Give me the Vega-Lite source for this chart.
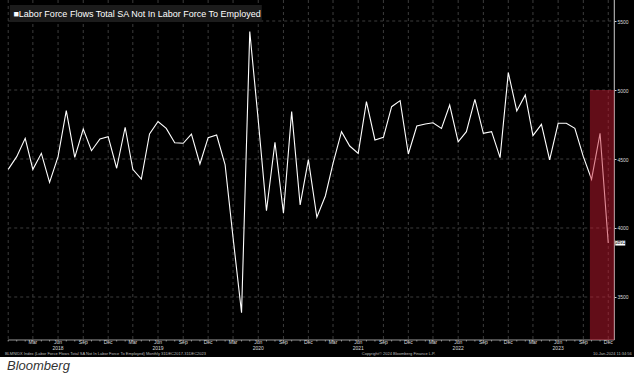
{
  "$schema": "https://vega.github.io/schema/vega-lite/v6.json",
  "width": 634,
  "height": 357,
  "autosize": {"type": "none"},
  "padding": {"left": 0, "top": 0, "right": 0, "bottom": 27},
  "background": "white",
  "title": {"text": "Bloomberg", "orient": "bottom", "anchor": "start", "font": "Liberation Sans", "fontSize": 13, "fontStyle": "italic", "fontWeight": "normal", "color": "#333333", "offset": 3, "dx": 7},
  "config": {
    "view": {"fill": "black", "stroke": null},
    "axis": {"labelFont": "Liberation Sans", "labelColor": "#dddddd", "labelFontSize": 5, "domain": false, "grid": false, "zindex": 2}
  },
  "datasets": {
    "flows": [
      {"date": "2017-12-01", "value": 4425},
      {"date": "2018-01-01", "value": 4517},
      {"date": "2018-02-01", "value": 4650},
      {"date": "2018-03-01", "value": 4425},
      {"date": "2018-04-01", "value": 4541},
      {"date": "2018-05-01", "value": 4331},
      {"date": "2018-06-01", "value": 4517},
      {"date": "2018-07-01", "value": 4850},
      {"date": "2018-08-01", "value": 4512},
      {"date": "2018-09-01", "value": 4717},
      {"date": "2018-10-01", "value": 4560},
      {"date": "2018-11-01", "value": 4645},
      {"date": "2018-12-01", "value": 4662},
      {"date": "2019-01-01", "value": 4433},
      {"date": "2019-02-01", "value": 4730},
      {"date": "2019-03-01", "value": 4425},
      {"date": "2019-04-01", "value": 4355},
      {"date": "2019-05-01", "value": 4681},
      {"date": "2019-06-01", "value": 4772},
      {"date": "2019-07-01", "value": 4722},
      {"date": "2019-08-01", "value": 4618},
      {"date": "2019-09-01", "value": 4614},
      {"date": "2019-10-01", "value": 4681},
      {"date": "2019-11-01", "value": 4464},
      {"date": "2019-12-01", "value": 4655},
      {"date": "2020-01-01", "value": 4674},
      {"date": "2020-02-01", "value": 4457},
      {"date": "2020-03-01", "value": 3930},
      {"date": "2020-04-01", "value": 3386},
      {"date": "2020-05-01", "value": 5423},
      {"date": "2020-06-01", "value": 4780},
      {"date": "2020-07-01", "value": 4125},
      {"date": "2020-08-01", "value": 4621},
      {"date": "2020-09-01", "value": 4107},
      {"date": "2020-10-01", "value": 4843},
      {"date": "2020-11-01", "value": 4167},
      {"date": "2020-12-01", "value": 4495},
      {"date": "2021-01-01", "value": 4078},
      {"date": "2021-02-01", "value": 4232},
      {"date": "2021-03-01", "value": 4469},
      {"date": "2021-04-01", "value": 4698},
      {"date": "2021-05-01", "value": 4594},
      {"date": "2021-06-01", "value": 4541},
      {"date": "2021-07-01", "value": 4916},
      {"date": "2021-08-01", "value": 4638},
      {"date": "2021-09-01", "value": 4657},
      {"date": "2021-10-01", "value": 4879},
      {"date": "2021-11-01", "value": 4923},
      {"date": "2021-12-01", "value": 4536},
      {"date": "2022-01-01", "value": 4739},
      {"date": "2022-02-01", "value": 4754},
      {"date": "2022-03-01", "value": 4763},
      {"date": "2022-04-01", "value": 4722},
      {"date": "2022-05-01", "value": 4891},
      {"date": "2022-06-01", "value": 4625},
      {"date": "2022-07-01", "value": 4698},
      {"date": "2022-08-01", "value": 4932},
      {"date": "2022-09-01", "value": 4686},
      {"date": "2022-10-01", "value": 4698},
      {"date": "2022-11-01", "value": 4510},
      {"date": "2022-12-01", "value": 5126},
      {"date": "2023-01-01", "value": 4848},
      {"date": "2023-02-01", "value": 4964},
      {"date": "2023-03-01", "value": 4669},
      {"date": "2023-04-01", "value": 4751},
      {"date": "2023-05-01", "value": 4493},
      {"date": "2023-06-01", "value": 4759},
      {"date": "2023-07-01", "value": 4759},
      {"date": "2023-08-01", "value": 4722},
      {"date": "2023-09-01", "value": 4517},
      {"date": "2023-10-01", "value": 4353},
      {"date": "2023-11-01", "value": 4686},
      {"date": "2023-12-01", "value": 3891}
    ],
    "latest": [{"date": "2023-12-01", "value": 3891}],
    "quarters": [
      {"date": "2017-12-01"},
      {"date": "2018-03-01"}, {"date": "2018-06-01"}, {"date": "2018-09-01"}, {"date": "2018-12-01"},
      {"date": "2019-03-01"}, {"date": "2019-06-01"}, {"date": "2019-09-01"}, {"date": "2019-12-01"},
      {"date": "2020-03-01"}, {"date": "2020-06-01"}, {"date": "2020-09-01"}, {"date": "2020-12-01"},
      {"date": "2021-03-01"}, {"date": "2021-06-01"}, {"date": "2021-09-01"}, {"date": "2021-12-01"},
      {"date": "2022-03-01"}, {"date": "2022-06-01"}, {"date": "2022-09-01"}, {"date": "2022-12-01"},
      {"date": "2023-03-01"}, {"date": "2023-06-01"}, {"date": "2023-09-01"}, {"date": "2023-12-01"}
    ],
    "monthLabels": [
      {"date": "2018-03-01"}, {"date": "2018-06-01"}, {"date": "2018-09-01"}, {"date": "2018-12-01"},
      {"date": "2019-03-01"}, {"date": "2019-06-01"}, {"date": "2019-09-01"}, {"date": "2019-12-01"},
      {"date": "2020-03-01"}, {"date": "2020-06-01"}, {"date": "2020-09-01"}, {"date": "2020-12-01"},
      {"date": "2021-03-01"}, {"date": "2021-06-01"}, {"date": "2021-09-01"}, {"date": "2021-12-01"},
      {"date": "2022-03-01"}, {"date": "2022-06-01"}, {"date": "2022-09-01"}, {"date": "2022-12-01"},
      {"date": "2023-03-01"}, {"date": "2023-06-01"}, {"date": "2023-09-01"}, {"date": "2023-12-01"}
    ],
    "yearLabels": [
      {"date": "2018-06-01"}, {"date": "2019-06-01"}, {"date": "2020-06-01"},
      {"date": "2021-06-01"}, {"date": "2022-06-01"}, {"date": "2023-06-01"}
    ],
    "levels": [{"level": 3500}, {"level": 4000}, {"level": 4500}, {"level": 5000}, {"level": 5500}]
  },
  "layer": [
    {
      "data": {"name": "quarters"},
      "mark": {"type": "rule", "color": "#3c3c3c", "strokeWidth": 1, "strokeDash": [3, 3]},
      "encoding": {
        "x": {"field": "date", "type": "temporal"},
        "y": {"datum": 5652.2, "type": "quantitative"},
        "y2": {"datum": 3188.4}
      }
    },
    {
      "data": {"name": "levels"},
      "mark": {"type": "rule", "color": "#3c3c3c", "strokeWidth": 1, "strokeDash": [3, 3]},
      "encoding": {
        "y": {"field": "level", "type": "quantitative"},
        "x": {"datum": {"year": 2017, "month": 12, "date": 1, "utc": true}, "type": "temporal"},
        "x2": {"datum": {"year": 2023, "month": 12, "date": 23, "utc": true}}
      }
    },
    {
      "data": {"values": [{}]},
      "mark": {"type": "rect", "color": "#1c1c1c"},
      "encoding": {
        "x": {"datum": {"year": 2017, "month": 12, "date": 7, "utc": true}, "type": "temporal"},
        "x2": {"datum": {"year": 2020, "month": 6, "date": 14, "utc": true}},
        "y": {"datum": 5616, "type": "quantitative"},
        "y2": {"datum": 5493}
      }
    },
    {
      "data": {"values": [{"t": "■Labor Force Flows Total SA Not In Labor Force To Employed"}]},
      "mark": {"type": "text", "color": "white", "font": "Liberation Sans", "fontSize": 9, "align": "left", "baseline": "middle"},
      "encoding": {
        "x": {"datum": {"year": 2017, "month": 12, "date": 20, "utc": true}, "type": "temporal"},
        "y": {"datum": 5550, "type": "quantitative"},
        "text": {"field": "t"}
      }
    },
    {
      "data": {"values": [{}]},
      "mark": {"type": "rule", "color": "#999999", "strokeWidth": 1},
      "encoding": {
        "y": {"datum": 3188.4, "type": "quantitative"},
        "x": {"datum": {"year": 2017, "month": 12, "date": 1, "utc": true}, "type": "temporal"},
        "x2": {"datum": {"year": 2023, "month": 12, "date": 23, "utc": true}}
      }
    },
    {
      "data": {"values": [{}]},
      "mark": {"type": "rule", "color": "#cccccc", "strokeWidth": 1},
      "encoding": {
        "x": {"datum": {"year": 2023, "month": 12, "date": 23, "utc": true}, "type": "temporal"},
        "y": {"datum": 5652.2, "type": "quantitative"},
        "y2": {"datum": 3188.4}
      }
    },
    {
      "data": {"name": "flows"},
      "mark": {"type": "rule", "color": "#999999", "strokeWidth": 1},
      "encoding": {
        "x": {"field": "date", "type": "temporal"},
        "y": {"datum": 3188.4, "type": "quantitative"},
        "y2": {"datum": 3178}
      }
    },
    {
      "data": {"name": "monthLabels"},
      "mark": {"type": "text", "color": "#dddddd", "font": "Liberation Sans", "fontSize": 5, "align": "center", "baseline": "middle"},
      "encoding": {
        "x": {"field": "date", "type": "temporal"},
        "y": {"datum": 3171, "type": "quantitative"},
        "text": {"field": "date", "type": "temporal", "timeUnit": "utcmonth", "format": "%b"}
      }
    },
    {
      "data": {"name": "yearLabels"},
      "mark": {"type": "text", "color": "#dddddd", "font": "Liberation Sans", "fontSize": 5, "align": "center", "baseline": "middle"},
      "encoding": {
        "x": {"field": "date", "type": "temporal"},
        "y": {"datum": 3127, "type": "quantitative"},
        "text": {"field": "date", "type": "temporal", "timeUnit": "utcyear", "format": "%Y"}
      }
    },
    {
      "data": {"name": "flows"},
      "mark": {"type": "line", "color": "white", "strokeWidth": 1.1},
      "encoding": {
        "x": {
          "field": "date", "type": "temporal", "title": null,
          "scale": {"type": "utc", "nice": false, "domain": [{"year": 2017, "month": 11, "date": 1, "utc": true}, {"year": 2024, "month": 3, "date": 4, "utc": true}]},
          "axis": {"title": null, "labels": false, "ticks": false}
        },
        "y": {
          "field": "value", "type": "quantitative", "title": null,
          "scale": {"domain": [3065.2, 5652.2], "zero": false, "nice": false},
          "axis": {"title": null, "orient": "right", "offset": -20, "tickSize": 2, "tickColor": "#cccccc", "labelPadding": 1, "values": [3500, 4000, 4500, 5000, 5500], "format": "d", "labelBaseline": "middle"}
        }
      }
    },
    {
      "data": {"values": [{}]},
      "mark": {"type": "rect", "color": "#c41a30", "opacity": 0.5},
      "encoding": {
        "x": {"datum": {"year": 2023, "month": 9, "date": 25, "utc": true}, "type": "temporal"},
        "x2": {"datum": {"year": 2023, "month": 12, "date": 23, "utc": true}},
        "y": {"datum": 5000, "type": "quantitative"},
        "y2": {"datum": 3188.4}
      }
    },
    {
      "data": {"name": "latest"},
      "mark": {"type": "point", "shape": "M-1,-0.5H1V0.5H-1Z", "size": 100, "filled": true, "color": "white", "opacity": 1, "strokeWidth": 0, "xOffset": 12},
      "encoding": {
        "x": {"field": "date", "type": "temporal"},
        "y": {"field": "value", "type": "quantitative"}
      }
    },
    {
      "data": {"name": "latest"},
      "mark": {"type": "text", "color": "black", "font": "Liberation Sans", "fontSize": 4.5, "align": "center", "baseline": "middle", "xOffset": 12},
      "encoding": {
        "x": {"field": "date", "type": "temporal"},
        "y": {"field": "value", "type": "quantitative"},
        "text": {"field": "value", "type": "quantitative", "format": "d"}
      }
    },
    {
      "data": {"values": [{"t": "BLMNIDX Index (Labor Force Flows Total SA Not In Labor Force To Employed)  Monthly 31DEC2017-31DEC2023"}]},
      "mark": {"type": "text", "color": "#bbbbbb", "font": "Liberation Sans", "fontSize": 4, "align": "left", "baseline": "middle"},
      "encoding": {
        "x": {"datum": {"year": 2017, "month": 11, "date": 19, "utc": true}, "type": "temporal"},
        "y": {"datum": 3090, "type": "quantitative"},
        "text": {"field": "t"}
      }
    },
    {
      "data": {"values": [{"t": "Copyright© 2024 Bloomberg Finance L.P."}]},
      "mark": {"type": "text", "color": "#bbbbbb", "font": "Liberation Sans", "fontSize": 4, "align": "left", "baseline": "middle"},
      "encoding": {
        "x": {"datum": {"year": 2021, "month": 6, "date": 14, "utc": true}, "type": "temporal"},
        "y": {"datum": 3090, "type": "quantitative"},
        "text": {"field": "t"}
      }
    },
    {
      "data": {"values": [{"t": "10-Jan-2024 11:34:56"}]},
      "mark": {"type": "text", "color": "#bbbbbb", "font": "Liberation Sans", "fontSize": 4, "align": "right", "baseline": "middle"},
      "encoding": {
        "x": {"datum": {"year": 2024, "month": 2, "date": 25, "utc": true}, "type": "temporal"},
        "y": {"datum": 3090, "type": "quantitative"},
        "text": {"field": "t"}
      }
    }
  ]
}
